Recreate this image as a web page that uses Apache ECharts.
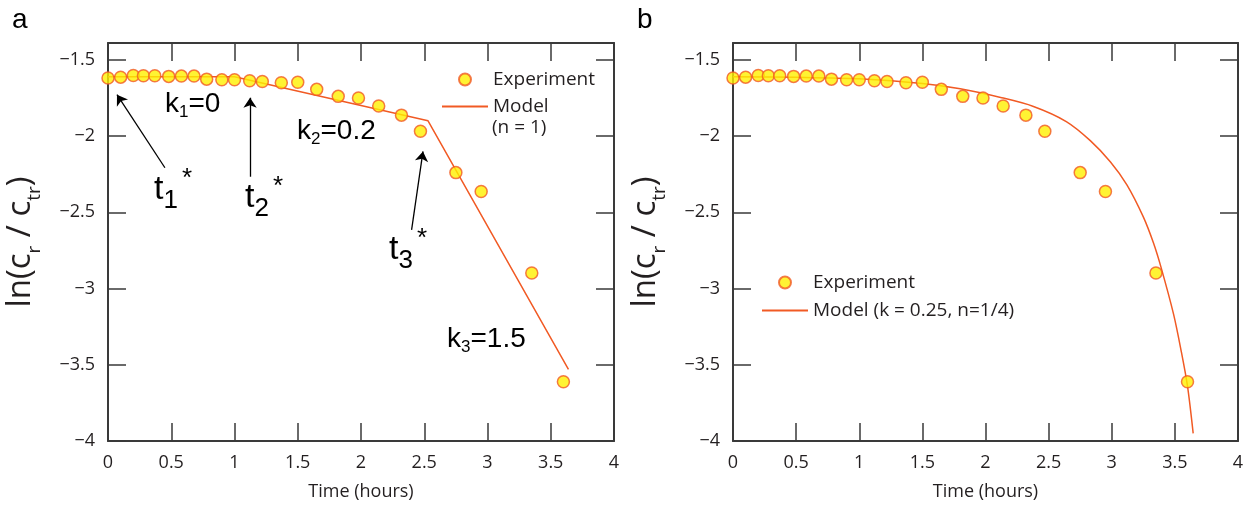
<!DOCTYPE html>
<html><head><meta charset="utf-8">
<script src="https://cdn.jsdelivr.net/npm/echarts@6/dist/echarts.min.js"></script>
<style>html,body{margin:0;padding:0;background:#fff}#c{width:1249px;height:506px}</style>
</head><body><div id="c"></div>
<script>
// ---- data ----
const timeExp = [0, 0.10, 0.20, 0.28, 0.37, 0.48, 0.58, 0.68, 0.78, 0.90, 1.00, 1.12, 1.22, 1.37, 1.50, 1.65, 1.82, 1.98, 2.14, 2.32, 2.47, 2.75, 2.95, 3.35, 3.60];
const lnExp   = [-1.620, -1.614, -1.603, -1.605, -1.605, -1.609, -1.607, -1.607, -1.627, -1.631, -1.631, -1.638, -1.642, -1.651, -1.647, -1.694, -1.740, -1.751, -1.803, -1.863, -1.969, -2.240, -2.364, -2.898, -3.612];
const modelATime = [0, 1.0, 2.53, 3.64];
const modelALn   = [-1.612, -1.612, -1.90, -3.53];
const modelBTime = [0, 0.5, 1.0, 1.5, 1.8, 2.12, 2.38, 2.64, 2.83, 2.99, 3.12, 3.25, 3.33, 3.39, 3.49, 3.55, 3.60, 3.645];
const modelBLn   = [-1.611, -1.615, -1.625, -1.655, -1.69, -1.747, -1.806, -1.905, -2.03, -2.17, -2.32, -2.53, -2.70, -2.86, -3.17, -3.41, -3.64, -3.95];
const xTickLabels = ['0', '0.5', '1', '1.5', '2', '2.5', '3', '3.5', '4'];
const yTickLabels = ['−4', '−3.5', '−3', '−2.5', '−2', '−1.5'];
const arrowsA = [
  [[0.45, -2.208], [0.071, -1.729]],
  [[1.123, -2.267], [1.123, -1.749]],
  [[2.40, -2.615], [2.49, -2.101]]
];

const FONT = 'Open Sans';
const TXT = '#231f20';
const AX = '#3a3a3a';
const ORANGE = '#F15A24';
const YELLOW = '#FFF000';

const zip = (a, b) => a.map((v, i) => [v, b[i]]);

function xLab(v) {
  const i = Math.round(v * 2);
  return Math.abs(v * 2 - i) < 1e-6 ? xTickLabels[i] : '';
}
function yLab(v) {
  const i = Math.round((v + 4) * 2);
  return Math.abs((v + 4) * 2 - i) < 1e-6 && i >= 0 && i < yTickLabels.length ? yTickLabels[i] : '';
}

function xAxes(g) {
  const common = {
    type: 'value', gridIndex: g, min: 0, max: 4, interval: 0.5,
    axisLine: { show: true, onZero: false, lineStyle: { color: AX, width: 2 } },
    axisTick: { show: true, inside: true, length: 18, lineStyle: { color: AX, width: 1.5 } },
    splitLine: { show: false }
  };
  return [
    Object.assign({}, common, {
      position: 'bottom',
      axisLabel: { margin: 13, fontSize: 18, color: TXT, fontFamily: FONT, formatter: xLab },
      name: 'Time (hours)', nameLocation: 'middle', nameGap: 42,
      nameTextStyle: { fontSize: 18, color: TXT, fontFamily: FONT }
    }),
    Object.assign({}, common, { position: 'top', axisLabel: { show: false } })
  ];
}
function yAxes(g) {
  const common = {
    type: 'value', gridIndex: g, min: -4, max: -1.39, interval: 0.5,
    axisLine: { show: true, onZero: false, lineStyle: { color: AX, width: 2 } },
    axisTick: { show: true, inside: true, length: 18, lineStyle: { color: AX, width: 1.5 } },
    splitLine: { show: false }
  };
  return [
    Object.assign({}, common, {
      position: 'left',
      axisLabel: { margin: 13, fontSize: 18, color: TXT, fontFamily: FONT, formatter: yLab },
      name: '{a|ln(c}{b|r}{a| / c}{b|tr}{a|)}', nameLocation: 'middle', nameGap: 64, nameRotate: 90,
      nameTextStyle: {
        color: TXT, fontFamily: FONT,
        rich: {
          a: { fontSize: 33, lineHeight: 46, fontFamily: FONT, color: TXT },
          b: { fontSize: 19, lineHeight: 19, verticalAlign: 'bottom', fontFamily: FONT, color: TXT }
        }
      }
    }),
    Object.assign({}, common, { position: 'right', axisLabel: { show: false } })
  ];
}

const expStyle = { color: YELLOW, borderColor: ORANGE, borderWidth: 1.5 };

const annoRichK = {
  k: { fontSize: 28, lineHeight: 34, fontFamily: 'Liberation Sans', fill: '#000' },
  s: { fontSize: 17, lineHeight: 17, verticalAlign: 'bottom', fontFamily: 'Liberation Sans', fill: '#000' }
};
const annoRichT = {
  t: { fontSize: 34, lineHeight: 48, fontFamily: 'Liberation Sans', fill: '#000' },
  s: { fontSize: 26, lineHeight: 26, verticalAlign: 'bottom', fontFamily: 'Liberation Sans', fill: '#000' },
  a: { fontSize: 26, lineHeight: 26, verticalAlign: 'top', fontFamily: 'Liberation Sans', fill: '#000', padding: [0, 0, 0, 4] }
};

const legendCommon = {
  orient: 'vertical', padding: 0, itemWidth: 46, itemHeight: 12, itemGap: 8,
  textStyle: { fontSize: 19, color: TXT, fontFamily: FONT }
};

const option = {
  animation: false,
  backgroundColor: '#fff',
  grid: [
    { left: 108, top: 43, width: 506, height: 398 },
    { left: 733, top: 43, width: 505, height: 398 }
  ],
  xAxis: [...xAxes(0), ...xAxes(1)],
  yAxis: [...yAxes(0), ...yAxes(1)],
  legend: [
    Object.assign({}, legendCommon, {
      left: 441, top: 70,
      data: ['Experiment', { name: 'Model', itemStyle: { opacity: 0 } }]
    }),
    Object.assign({}, legendCommon, {
      left: 761, top: 273, itemGap: 9,
      data: ['Experiment', { name: 'Model (k = 0.25, n=1/4)', itemStyle: { opacity: 0 } }]
    })
  ],
  series: [
    {
      name: 'Model', type: 'line', xAxisIndex: 0, yAxisIndex: 0,
      data: zip(modelATime, modelALn), symbol: 'none',
      lineStyle: { color: ORANGE, width: 1.5 }, itemStyle: { color: ORANGE },
      markLine: {
        silent: true, animation: false, symbol: ['none', 'arrow'], symbolSize: 10,
        label: { show: false },
        lineStyle: { color: '#000', width: 1.3, type: 'solid' },
        itemStyle: { color: '#000' },
        emphasis: { disabled: true },
        data: arrowsA.map(a => [{ coord: a[0] }, { coord: a[1] }])
      }
    },
    {
      name: 'Experiment', type: 'scatter', xAxisIndex: 0, yAxisIndex: 0,
      data: zip(timeExp, lnExp), symbol: 'circle', symbolSize: 12, itemStyle: expStyle, z: 5
    },
    {
      name: 'Model (k = 0.25, n=1/4)', type: 'line', xAxisIndex: 2, yAxisIndex: 2,
      data: zip(modelBTime, modelBLn), symbol: 'none', smooth: 0.3,
      lineStyle: { color: ORANGE, width: 1.5 }, itemStyle: { color: ORANGE }
    },
    {
      name: 'Experiment', type: 'scatter', xAxisIndex: 2, yAxisIndex: 2,
      data: zip(timeExp, lnExp), symbol: 'circle', symbolSize: 12, itemStyle: expStyle, z: 5
    }
  ],
  graphic: [
    { type: 'text', left: 12, top: 6, style: { text: 'a', fontSize: 28, fontFamily: 'Liberation Sans', fill: '#000' } },
    { type: 'text', left: 637, top: 6, style: { text: 'b', fontSize: 28, fontFamily: 'Liberation Sans', fill: '#000' } },
    { type: 'text', x: 492, y: 118, style: { text: '(n = 1)', fontSize: 19, fontFamily: FONT, fill: TXT } },
    { type: 'text', x: 165, y: 87, style: { text: '{k|k}{s|1}{k|=0}', rich: annoRichK } },
    { type: 'text', x: 297, y: 114, style: { text: '{k|k}{s|2}{k|=0.2}', rich: annoRichK } },
    { type: 'text', x: 447, y: 322, style: { text: '{k|k}{s|3}{k|=1.5}', rich: annoRichK } },
    { type: 'text', x: 154, y: 166, style: { text: '{t|t}{s|1}{a|*}', rich: annoRichT } },
    { type: 'text', x: 245, y: 174, style: { text: '{t|t}{s|2}{a|*}', rich: annoRichT } },
    { type: 'text', x: 389, y: 226, style: { text: '{t|t}{s|3}{a|*}', rich: annoRichT } }
  ]
};

const chart = echarts.init(document.getElementById('c'), null, { renderer: 'canvas' });
chart.setOption(option);
</script>
</body></html>
